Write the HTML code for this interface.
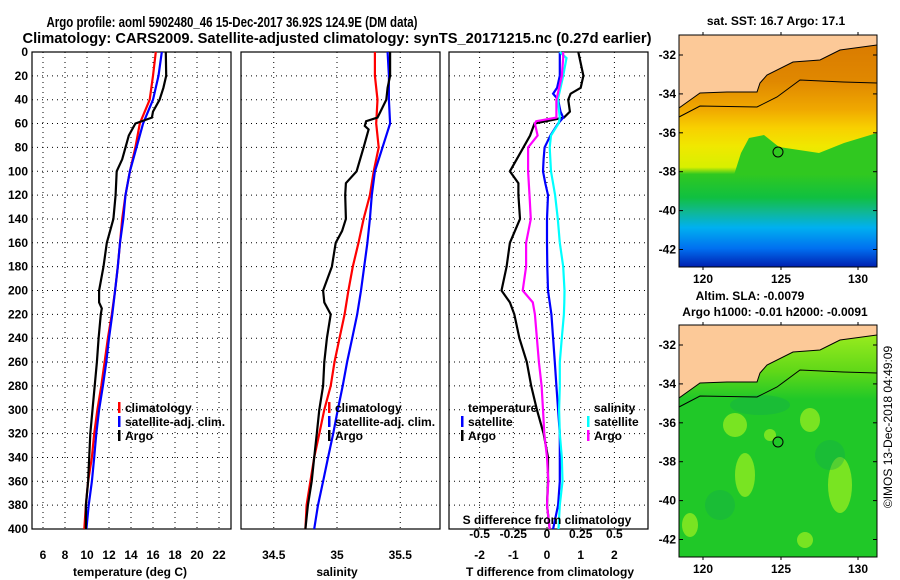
<!DOCTYPE html>
<html><head><meta charset="utf-8"><style>
body{margin:0;background:#fff}
svg{display:block;font-family:"Liberation Sans",sans-serif;font-weight:bold}
</style></head><body>
<svg id="c" width="900" height="580" viewBox="0 0 900 580">
<text x="232" y="27" font-size="15" text-anchor="middle" textLength="371" lengthAdjust="spacingAndGlyphs">Argo profile: aoml 5902480_46 15-Dec-2017 36.92S 124.9E (DM data)</text>
<text x="337" y="43" font-size="15" text-anchor="middle" textLength="629" lengthAdjust="spacingAndGlyphs">Climatology: CARS2009. Satellite-adjusted climatology: synTS_20171215.nc (0.27d earlier)</text>
<g id="panels"></g>
<g id="maps"></g>
<text transform="translate(892,427) rotate(-90)" font-size="12" font-weight="normal" text-anchor="middle">©IMOS 13-Dec-2018 04:49:09</text>
</svg>
<script>
// ---- data ----
const depthT = [0,20,30,40,50,55,60,70,80,90,100,120,140,150,160,180,200,210,215,220,240,260,280,300,320,340,360,380,400];
const argoT = [17.16,17.2,16.95,16.6,16.0,15.9,14.4,13.8,13.5,13.2,12.7,12.6,12.4,12.1,11.8,11.5,11.1,11.1,11.35,11.25,11.05,10.9,10.7,10.5,10.3,10.2,10.1,9.9,9.9];
const depthStd = [0,20,40,60,80,100,120,140,160,180,200,220,240,260,280,300,320,340,360,380,400];
const climT = [16.25,16.0,15.7,14.8,14.4,13.9,13.5,13.2,13.0,12.8,12.55,12.25,11.9,11.6,11.3,10.95,10.65,10.45,10.1,9.9,9.75];
const satT = [16.8,16.5,16.0,15.1,14.5,13.9,13.5,13.3,13.0,12.8,12.55,12.3,12.0,11.75,11.45,11.1,10.85,10.65,10.45,10.15,9.95];
const climS = [35.30,35.30,35.32,35.31,35.33,35.29,35.26,35.21,35.17,35.125,35.09,35.06,35.02,34.98,34.95,34.90,34.86,34.82,34.79,34.76,34.75];
const satS = [35.40,35.41,35.41,35.42,35.36,35.30,35.275,35.26,35.24,35.215,35.19,35.16,35.12,35.08,35.045,35.006,34.97,34.93,34.89,34.85,34.82];
const depthAS = [0,20,30,40,55,58,62,65,80,100,110,120,140,150,160,180,200,210,220,240,260,280,300,320,340,360,380,400];
const argoS = [35.42,35.42,35.40,35.39,35.32,35.23,35.22,35.25,35.21,35.155,35.07,35.065,35.07,35.04,34.99,34.96,34.89,34.90,34.95,34.92,34.90,34.89,34.86,34.84,34.82,34.80,34.77,34.75];
const depthD = [0,20,30,35,40,50,55,60,70,80,90,100,110,120,140,160,180,200,210,220,240,260,280,300,320,340,360,380,400];
const argoDT = [0.93,1.08,1.0,0.7,0.63,0.68,0.5,-0.37,-0.5,-0.7,-0.9,-1.1,-0.85,-0.85,-0.8,-1.1,-1.2,-1.35,-1.1,-0.97,-0.82,-0.6,-0.47,-0.3,-0.1,0.03,0.03,0,0.08];
const satDT = [0.38,0.38,0.3,0.18,0.33,0.4,0.48,0.33,0.1,-0.07,-0.1,-0.12,-0.05,0.03,0,0,0.01,0.03,0.08,0.13,0.18,0.23,0.28,0.33,0.38,0.38,0.38,0.33,0.18];
const depthDS = [0,5,20,40,55,58,60,70,80,100,120,140,160,180,200,210,220,240,260,280,300,320,340,360,380,400];
const satDS = [0.095,0.145,0.12,0.08,0.095,0.09,0.085,0.03,0.02,0.03,0.06,0.08,0.095,0.12,0.13,0.128,0.125,0.11,0.095,0.095,0.09,0.095,0.11,0.115,0.095,0.085];
const argoDS = [0.12,0.12,0.11,0.07,0.07,-0.08,-0.09,-0.07,-0.14,-0.14,-0.13,-0.12,-0.155,-0.155,-0.18,-0.105,-0.09,-0.075,-0.06,-0.04,-0.03,-0.02,0,0.01,0,0.02];
const depthTicks = [0,20,40,60,80,100,120,140,160,180,200,220,240,260,280,300,320,340,360,380,400];
const tTicks = [6,8,10,12,14,16,18,20,22];
const sTicks = [34.5,35,35.5];
const dtTicks = [-2,-1,0,1,2];
const dsTicks = [-0.5,-0.25,0,0.25,0.5];
const latTicks = [-32,-34,-36,-38,-40,-42];
const lonTicks = [120,125,130];

const NS='http://www.w3.org/2000/svg';
function mk(tag,attrs,parent){const e=document.createElementNS(NS,tag);for(const k in attrs)e.setAttribute(k,attrs[k]);parent.appendChild(e);return e;}
const P=document.getElementById('panels');
const yD=d=>52+d*(477/400);
const TOP=52,BOT=529;
const panels=[
 {x0:32,x1:231,sc:v=>43+(v-6)*11,ticks:tTicks,name:'temperature-panel',label:'temperature (deg C)',lx:130},
 {x0:241,x1:440,sc:v=>337+(v-35)*126.5,ticks:sTicks,name:'salinity-panel',label:'salinity',lx:337},
 {x0:449,x1:648,sc:v=>547+v*33.7,ticks:dtTicks,name:'difference-panel',label:'T difference from climatology',lx:550}
];
panels.forEach((p,i)=>{
 const g=mk('g',{},P);
 
 
 depthTicks.forEach(d=>{ if(d>0&&d<400){const l=mk('line',{x1:p.x0,x2:p.x1,y1:yD(d),y2:yD(d),stroke:'#000','stroke-width':1,'stroke-dasharray':'1 4'},g);
   }
   if(i===0){const t=mk('text',{x:28,y:yD(d)+4,'font-size':12,'text-anchor':'end'},g);t.textContent=d;
   }});
 p.ticks.forEach(v=>{const x=p.sc(v);
   const l=mk('line',{x1:x,x2:x,y1:TOP,y2:BOT,stroke:'#000','stroke-width':1,'stroke-dasharray':'1 4'},g);
   
   const t=mk('text',{x:x,y:559,'font-size':12,'text-anchor':'middle'},g);t.textContent=v;
   });
 const r=mk('rect',{x:p.x0,y:TOP,width:p.x1-p.x0,height:BOT-TOP,fill:'none',stroke:'#000','stroke-width':1.2},g);
 
 const t=mk('text',{x:p.lx,y:576,'font-size':12,'text-anchor':'middle'},g);t.textContent=p.label;
 
 p.g=g;
});
function line(g,xs,ds,sc,col,name){
 const pts=xs.map((v,i)=>sc(v).toFixed(1)+','+yD(ds[i]).toFixed(1)).join(' ');
 const l=mk('polyline',{points:pts,fill:'none',stroke:col,'stroke-width':2.2},g);
 
}
const p0=panels[0],p1=panels[1],p2=panels[2];
line(p0.g,climT,depthStd,p0.sc,'#f00','climatology-temperature');
line(p0.g,satT,depthStd,p0.sc,'#00f','satellite-temperature');
line(p0.g,argoT,depthT,p0.sc,'#000','argo-temperature');
line(p1.g,climS,depthStd,p1.sc,'#f00','climatology-salinity');
line(p1.g,satS,depthStd,p1.sc,'#00f','satellite-salinity');
line(p1.g,argoS,depthAS,p1.sc,'#000','argo-salinity');
const sS=v=>547+v*134.8;
line(p2.g,argoDT,depthD,p2.sc,'#000','argo-t-difference');
line(p2.g,satDT,depthD,p2.sc,'#00f','satellite-t-difference');
line(p2.g,satDS,depthDS,sS,'#0ff','satellite-s-difference');
line(p2.g,argoDS,depthDS,sS,'#f0f','argo-s-difference');
dsTicks.forEach(v=>{const t=mk('text',{x:sS(v),y:538,'font-size':12,'text-anchor':'middle'},p2.g);t.textContent=v;
 });
{const t=mk('text',{x:547,y:524,'font-size':12,'text-anchor':'middle'},p2.g);t.textContent='S difference from climatology';
 }
function legend(g,x,y,col,txt){
 if(col){const r=mk('rect',{x:x-7,y:y-10,width:2.5,height:11,fill:col},g);}
 const t=mk('text',{x:x,y:y,'font-size':12},g);t.textContent=txt;
 
}
[[p0.g,125],[p1.g,335]].forEach(([g,x])=>{legend(g,x,412,'#f00','climatology');legend(g,x,426,'#00f','satellite-adj. clim.');legend(g,x,440,'#000','Argo');});
legend(p2.g,468,412,null,'temperature');legend(p2.g,468,426,'#00f','satellite');legend(p2.g,468,440,'#000','Argo');
legend(p2.g,594,412,null,'salinity');legend(p2.g,594,426,'#0ff','satellite');legend(p2.g,594,440,'#f0f','Argo');

// ---- maps ----
const M=document.getElementById('maps');
const coast=[[679,73],[693,63],[700,58],[727,57],[757,57],[760,48],[767,40],[793,27],[820,25],[840,15],[877,10]];
const contour=[[679,82],[700,71],[757,72],[777,62],[800,45],[843,47],[877,48]];
function map(y0,kind,name,titles,lonY){
 const g=mk('g',{},M);
 const x0=679,x1=877,h=232;
 const id='clip'+kind;
 const cp=mk('clipPath',{id:id},g);mk('rect',{x:x0,y:y0,width:x1-x0,height:h},cp);
 const inner=mk('g',{'clip-path':'url(#'+id+')'},g);
 const gid='gr'+kind;
 const gr=mk('linearGradient',{id:gid,x1:0,y1:0,x2:0,y2:1},g);
 const stops=kind==='sst'?[[0,'#d87800'],[0.2,'#e08800'],[0.32,'#f0a800'],[0.4,'#f8d000'],[0.48,'#f0e800'],[0.57,'#d8f000'],[0.6,'#30c820'],[0.7,'#10c040'],[0.76,'#10b890'],[0.83,'#00b0f0'],[0.92,'#0070f0'],[1,'#0020b0']]
   :[[0,'#a8f020'],[0.2,'#60d818'],[0.32,'#20c828'],[1,'#20c828']];
 stops.forEach(s=>mk('stop',{offset:s[0],'stop-color':s[1]},gr));
 mk('rect',{x:x0,y:y0,width:x1-x0,height:h,fill:'url(#'+gid+')'},inner);
 if(kind==='sst'){
  mk('polygon',{points:`${x0+55},${y0+140} ${x0+62},${y0+118} ${x0+70},${y0+103} ${x0+85},${y0+100} ${x0+100},${y0+112} ${x0+140},${y0+118} ${x0+165},${y0+108} ${x1},${y0+98} ${x1},${y0+140}`,fill:'#30c820'},inner);
 } else {
  [[745,y0+150,10,22],[840,y0+160,12,28],[735,y0+100,12,12],[810,y0+95,10,12],[690,y0+200,8,12],[805,y0+215,8,8],[770,y0+110,6,6]].forEach(b=>mk('ellipse',{cx:b[0],cy:b[1],rx:b[2],ry:b[3],fill:'#a0f020',opacity:0.7},inner));
  [[760,y0+80,30,10],[830,y0+130,15,15],[720,y0+180,15,15]].forEach(b=>mk('ellipse',{cx:b[0],cy:b[1],rx:b[2],ry:b[3],fill:'#10a850',opacity:0.35},inner));
 }
 const off=y0;
 const cstr=coast.map(p=>p[0]+','+(p[1]+off)).join(' ');
 const land=mk('polygon',{points:`${x0},${y0} ${x1},${y0} `+coast.slice().reverse().map(p=>p[0]+','+(p[1]+off)).join(' '),fill:'#fcc998'},inner);
 
 mk('polyline',{points:cstr,fill:'none',stroke:'#000','stroke-width':1},inner);
 mk('polyline',{points:contour.map(p=>p[0]+','+(p[1]+off)).join(' '),fill:'none',stroke:'#000','stroke-width':1},inner);
 const c=mk('circle',{cx:778,cy:117+off,r:5,fill:'none',stroke:'#000','stroke-width':1},g);
 
 mk('rect',{x:x0,y:y0,width:x1-x0,height:h,fill:'none',stroke:'#000','stroke-width':1},g);
 latTicks.forEach((v,i)=>{const y=y0+20+i*38.9;const t=mk('text',{x:676,y:y+4,'font-size':12,'text-anchor':'end'},g);t.textContent=v;
  
  mk('line',{x1:x0,x2:x0+4,y1:y,y2:y,stroke:'#000'},g);mk('line',{x1:x1-4,x2:x1,y1:y,y2:y,stroke:'#000'},g);});
 [703,781,858].forEach((x,i)=>{const t=mk('text',{x:x,y:lonY,'font-size':12,'text-anchor':'middle'},g);t.textContent=lonTicks[i];
  
  mk('line',{x1:x,x2:x,y1:y0-3,y2:y0,stroke:'#000'},g);mk('line',{x1:x,x2:x,y1:y0+h,y2:y0+h+3,stroke:'#000'},g);});
 titles.forEach(tt=>{const t=mk('text',{x:tt[0],y:tt[1],'font-size':12,'text-anchor':'middle'},g);t.textContent=tt[2];
  });
}
map(35,'sst','sst-map',[[776,25,'sat. SST: 16.7 Argo: 17.1']],283);
map(325,'sla','sla-map',[[750,300,'Altim. SLA: -0.0079'],[775,316,'Argo h1000: -0.01 h2000: -0.0091']],573);
</script>
</body></html>
